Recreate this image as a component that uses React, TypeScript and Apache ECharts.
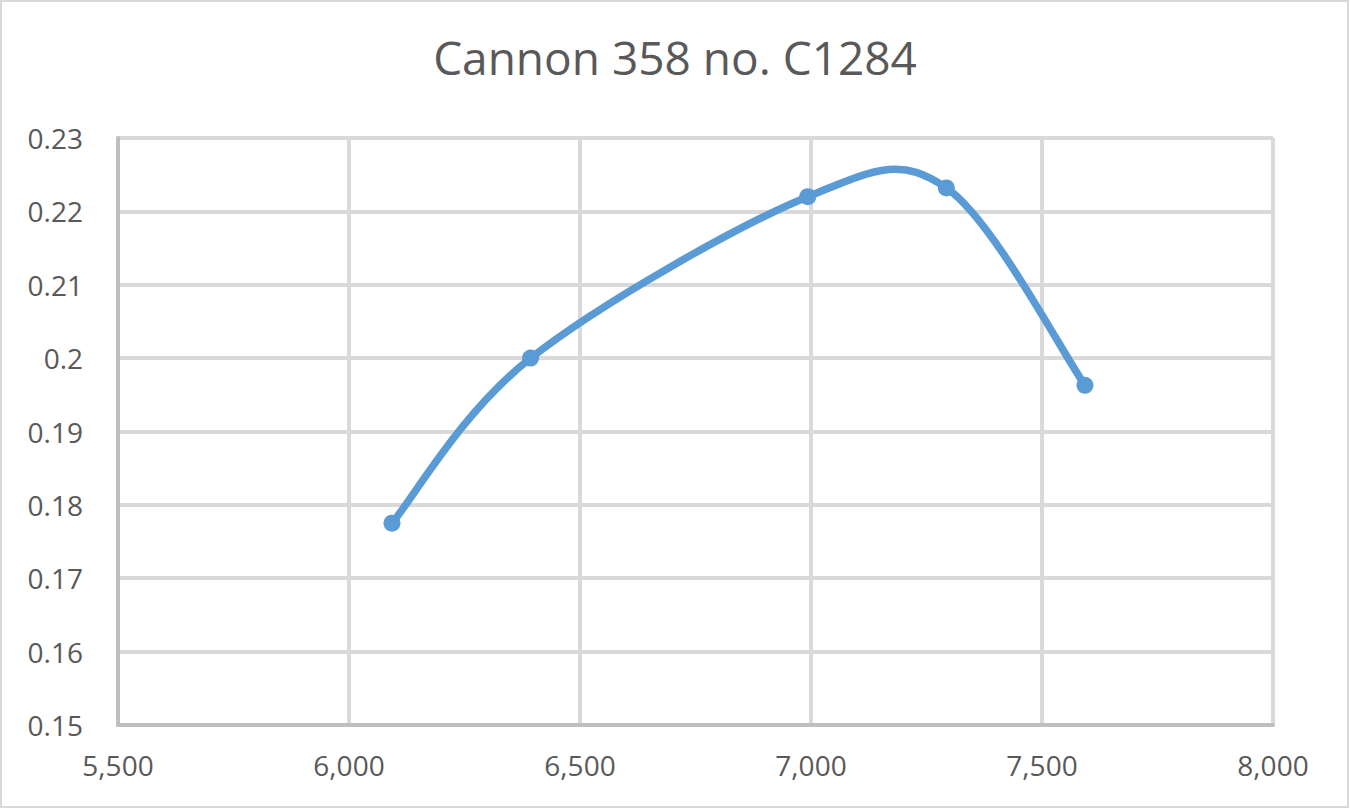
import React, { useEffect, useRef } from "react";
import * as echarts from "echarts";

const titleText = "Cannon 358 no. C1284";
const xValues = [6093, 6393, 6993, 7293, 7593];
const yValues = [0.1775, 0.2, 0.222, 0.2232, 0.1963];

export default function App() {
  const ref = useRef<HTMLDivElement>(null);
  useEffect(() => {
    if (!ref.current) return;
    const chart = echarts.init(ref.current, undefined, { renderer: "svg" });
    const font = "'Open Sans', 'Liberation Sans', sans-serif";
    const lineColor = "#5b9bd5";
    const points = xValues.map((x, i) => [x, yValues[i]]);
    const n = points.length;

    const renderSegment = (params: any, api: any) => {
      const i = params.dataIndex;
      if (i >= n - 1) return { type: "group", children: [] };
      const p = (j: number) => {
        const k = Math.max(0, Math.min(n - 1, j));
        return api.coord(points[k]);
      };
      const p0 = p(i - 1);
      const p1 = p(i);
      const p2 = p(i + 1);
      const p3 = p(i + 2);
      const c1x = p1[0] + (p2[0] - p0[0]) / 6;
      const c1y = p1[1] + (p2[1] - p0[1]) / 6;
      const c2x = p2[0] - (p3[0] - p1[0]) / 6;
      const c2y = p2[1] - (p3[1] - p1[1]) / 6;
      return {
        type: "bezierCurve",
        shape: {
          x1: p1[0],
          y1: p1[1],
          x2: p2[0],
          y2: p2[1],
          cpx1: c1x,
          cpy1: c1y,
          cpx2: c2x,
          cpy2: c2y,
        },
        style: { stroke: lineColor, lineWidth: 7.5, fill: "none", lineCap: "round" },
      };
    };

    chart.setOption({
      animation: false,
      backgroundColor: "#ffffff",
      title: {
        text: titleText,
        left: "center",
        top: 29,
        textStyle: { fontFamily: font, fontSize: 46, fontWeight: "normal", color: "#595959" },
      },
      graphic: [
        {
          type: "rect",
          shape: { x: 1, y: 1, width: 1347, height: 806 },
          style: { fill: "none", stroke: "#d9d9d9", lineWidth: 2 },
          silent: true,
        },
      ],
      grid: { left: 118, right: 77, top: 138, bottom: 84 },
      xAxis: {
        type: "value",
        min: 5500,
        max: 8000,
        interval: 500,
        axisLine: { show: true, lineStyle: { color: "#bfbfbf", width: 4 } },
        axisTick: { show: false },
        splitLine: { show: true, lineStyle: { color: "#d9d9d9", width: 4 } },
        axisLabel: {
          fontFamily: font,
          fontSize: 28,
          color: "#595959",
          margin: 26,
          formatter: (v: number) => v.toLocaleString("en-US"),
        },
      },
      yAxis: {
        type: "value",
        min: 0.15,
        max: 0.23,
        interval: 0.01,
        axisLine: { show: true, lineStyle: { color: "#bfbfbf", width: 4 } },
        axisTick: { show: false },
        splitLine: { show: true, lineStyle: { color: "#d9d9d9", width: 4 } },
        axisLabel: {
          fontFamily: font,
          fontSize: 28,
          color: "#595959",
          margin: 35,
          formatter: (v: number) => String(parseFloat(v.toFixed(2))),
        },
      },
      series: [
        {
          type: "custom",
          data: points,
          renderItem: renderSegment,
          silent: true,
        },
        {
          type: "scatter",
          data: points,
          symbol: "circle",
          symbolSize: 17,
          itemStyle: { color: lineColor, opacity: 1 },
        },
      ],
    });
    return () => chart.dispose();
  }, []);
  return (
    <div
      ref={ref}
      style={{ position: "absolute", left: 0, top: 0, width: 1350, height: 809 }}
    />
  );
}
